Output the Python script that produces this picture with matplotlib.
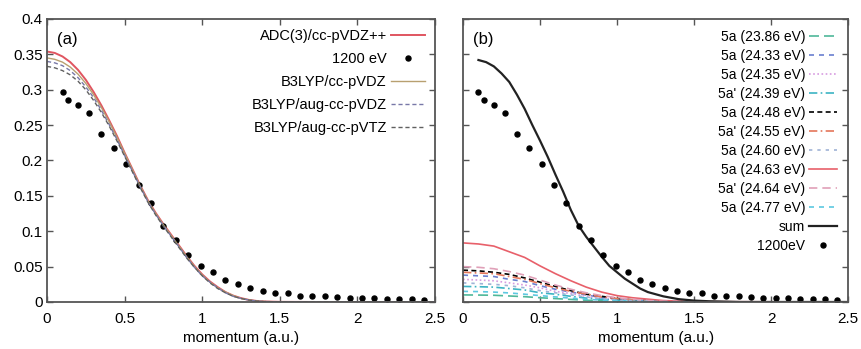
import numpy as np
import matplotlib
matplotlib.use('Agg')
import matplotlib.pyplot as plt
from matplotlib.ticker import FormatStrFormatter, MultipleLocator

plt.rcParams['font.family'] = ['Liberation Sans', 'DejaVu Sans']

# experimental data (shared by both panels)
exp_x = [0.10, 0.135, 0.20, 0.27, 0.35, 0.43, 0.51, 0.59, 0.67, 0.75, 0.83, 0.91, 0.99, 1.07,
         1.15, 1.23, 1.31, 1.39, 1.47, 1.55, 1.63, 1.71, 1.79, 1.87, 1.95, 2.03, 2.11, 2.19,
         2.27, 2.35, 2.43]
exp_y = [0.297, 0.286, 0.278, 0.267, 0.238, 0.217, 0.195, 0.166, 0.140, 0.108, 0.088, 0.067,
         0.051, 0.042, 0.031, 0.026, 0.020, 0.016, 0.013, 0.012, 0.009, 0.009, 0.008, 0.007,
         0.006, 0.005, 0.005, 0.004, 0.004, 0.004, 0.003]

# panel (a) theory curves
pa_x = [0.0, 0.05, 0.10, 0.15, 0.20, 0.25, 0.30, 0.35, 0.40, 0.45, 0.50, 0.55, 0.60, 0.65,
        0.70, 0.75, 0.80, 0.85, 0.90, 0.95, 1.00, 1.05, 1.10, 1.15, 1.20, 1.25, 1.30, 1.35,
        1.40, 1.50, 1.75, 2.00, 2.50]
adc = [0.354, 0.352, 0.347, 0.339, 0.328, 0.314, 0.297, 0.278, 0.257, 0.235, 0.211, 0.188,
       0.165, 0.144, 0.126, 0.110, 0.095, 0.080, 0.065, 0.051, 0.039, 0.029, 0.021, 0.014,
       0.009, 0.0055, 0.003, 0.0015, 0.0007, 0.0002, 0.0, 0.0, 0.0]
b3_vdz = [0.345, 0.343, 0.339, 0.332, 0.322, 0.309, 0.293, 0.275, 0.255, 0.233, 0.210, 0.187,
          0.164, 0.143, 0.125, 0.109, 0.094, 0.079, 0.064, 0.050, 0.038, 0.028, 0.020, 0.014,
          0.009, 0.005, 0.003, 0.0014, 0.0006, 0.0002, 0.0, 0.0, 0.0]
b3_avdz = [0.340, 0.338, 0.334, 0.327, 0.317, 0.304, 0.289, 0.271, 0.251, 0.230, 0.207, 0.185,
           0.163, 0.142, 0.124, 0.108, 0.093, 0.078, 0.063, 0.049, 0.037, 0.028, 0.020, 0.013,
           0.008, 0.005, 0.0028, 0.0013, 0.0006, 0.0002, 0.0, 0.0, 0.0]
b3_avtz = [0.333, 0.331, 0.327, 0.321, 0.312, 0.300, 0.285, 0.268, 0.249, 0.228, 0.206, 0.184,
           0.162, 0.141, 0.123, 0.107, 0.092, 0.077, 0.062, 0.049, 0.037, 0.027, 0.019, 0.013,
           0.008, 0.005, 0.0027, 0.0013, 0.0006, 0.0002, 0.0, 0.0, 0.0]

# panel (b) components
pb_x = [0.0, 0.1, 0.2, 0.3, 0.4, 0.5, 0.6, 0.7, 0.8, 0.9, 1.0, 1.1, 1.2, 1.3, 1.5, 2.5]
c2386 = [0.010, 0.0098, 0.0095, 0.0085, 0.0075, 0.006, 0.0048, 0.0036, 0.0025, 0.0017, 0.0011,
         0.0007, 0.0005, 0.0003, 0.0001, 0.0]
c2433 = [0.038, 0.037, 0.036, 0.032, 0.029, 0.023, 0.018, 0.014, 0.010, 0.006, 0.004, 0.003,
         0.002, 0.001, 0.0002, 0.0]
c2435 = [0.032, 0.031, 0.030, 0.027, 0.024, 0.020, 0.015, 0.012, 0.008, 0.005, 0.0035, 0.002,
         0.0014, 0.0008, 0.0002, 0.0]
c2439 = [0.022, 0.0216, 0.021, 0.019, 0.017, 0.013, 0.011, 0.008, 0.0055, 0.0037, 0.0024,
         0.0015, 0.001, 0.0005, 0.0001, 0.0]
c2448 = [0.045, 0.044, 0.042, 0.039, 0.034, 0.028, 0.022, 0.016, 0.011, 0.008, 0.005, 0.003,
         0.002, 0.001, 0.0003, 0.0]
c2455 = [0.042, 0.041, 0.040, 0.036, 0.032, 0.026, 0.020, 0.015, 0.011, 0.007, 0.005, 0.003,
         0.002, 0.001, 0.0002, 0.0]
c2460 = [0.027, 0.026, 0.025, 0.023, 0.020, 0.016, 0.013, 0.010, 0.007, 0.0046, 0.003, 0.002,
         0.0012, 0.0007, 0.0002, 0.0]
c2463 = [0.0835, 0.082, 0.079, 0.071, 0.063, 0.051, 0.040, 0.030, 0.021, 0.014, 0.009, 0.006,
         0.004, 0.002, 0.0005, 0.0]
c2464 = [0.050, 0.049, 0.047, 0.043, 0.038, 0.031, 0.024, 0.018, 0.013, 0.009, 0.006, 0.004,
         0.002, 0.001, 0.0003, 0.0]
c2477 = [0.015, 0.0147, 0.014, 0.0128, 0.011, 0.009, 0.0072, 0.0054, 0.0038, 0.0026, 0.0017,
         0.001, 0.0007, 0.0004, 0.0001, 0.0]

sum_x = [0.10, 0.15, 0.20, 0.25, 0.30, 0.35, 0.40, 0.45, 0.50, 0.55, 0.60, 0.65, 0.70, 0.75,
         0.80, 0.85, 0.90, 0.95, 1.00, 1.05, 1.10, 1.15, 1.20, 1.25, 1.30, 1.40, 1.50, 1.60,
         1.80, 2.50]
sum_y = [0.342, 0.339, 0.333, 0.323, 0.311, 0.293, 0.273, 0.250, 0.228, 0.205, 0.180, 0.156,
         0.130, 0.108, 0.092, 0.078, 0.064, 0.051, 0.042, 0.033, 0.026, 0.019, 0.014, 0.011,
         0.008, 0.004, 0.002, 0.001, 0.0, 0.0]

fig = plt.figure(figsize=(8.61, 3.49), dpi=100)
ax1 = fig.add_axes([0.0546, 0.1347, 0.4506, 0.8109])
ax2 = fig.add_axes([0.5378, 0.1347, 0.4472, 0.8109])

for ax in (ax1, ax2):
    ax.set_xlim(0, 2.5)
    ax.set_ylim(0, 0.4)
    ax.xaxis.set_major_locator(MultipleLocator(0.5))
    ax.yaxis.set_major_locator(MultipleLocator(0.05))
    ax.xaxis.set_major_formatter(FormatStrFormatter('%g'))
    ax.yaxis.set_major_formatter(FormatStrFormatter('%g'))
    ax.tick_params(direction='in', top=True, right=True, length=4, width=1,
                   color='#555555', labelsize=11)
    ax.tick_params(axis='x', pad=7)
    ax.tick_params(axis='y', pad=3)
    for s in ax.spines.values():
        s.set_color('#555555')
        s.set_linewidth(1.3)
    ax.set_xlabel('momentum (a.u.)', fontsize=11, labelpad=4)

ax2.tick_params(labelleft=False)

# panel (a)
ax1.plot(pa_x, adc, color='#e05560', lw=1.4, label='ADC(3)/cc-pVDZ++')
ax1.plot(exp_x, exp_y, 'o', color='black', ms=3.6, label='1200 eV')
ax1.plot(pa_x, b3_vdz, color='#b8a070', lw=1.0, label='B3LYP/cc-pVDZ')
ax1.plot(pa_x, b3_avdz, color='#7878a8', lw=1.0, ls=(0, (3, 2)), label='B3LYP/aug-cc-pVDZ')
ax1.plot(pa_x, b3_avtz, color='#606060', lw=1.0, ls=(0, (3, 2)), label='B3LYP/aug-cc-pVTZ')
ax1.legend(loc='upper right', frameon=False, markerfirst=False, fontsize=10.5,
           handlelength=2.3, handletextpad=0.3, labelspacing=0.62, borderaxespad=0.3,
           numpoints=1)
ax1.text(0.025, 0.955, '(a)', transform=ax1.transAxes, fontsize=12, va='top')

# panel (b)
comps = [
    ('5a (23.86 eV)', c2386, '#4fb89a', (0, (6, 3))),
    ('5a (24.33 eV)', c2433, '#6a7fd0', (0, (3, 3))),
    ('5a (24.35 eV)', c2435, '#d79be0', (0, (1, 1.5))),
    ("5a' (24.39 eV)", c2439, '#3cb4c4', (0, (5, 2, 1, 2))),
    ('5a (24.48 eV)', c2448, 'black', (0, (3, 2))),
    ("5a' (24.55 eV)", c2455, '#e4765a', (0, (5, 2, 1, 2))),
    ('5a (24.60 eV)', c2460, '#9fb3d6', (0, (2, 3))),
    ('5a (24.63 eV)', c2463, '#e8606a', '-'),
    ("5a' (24.64 eV)", c2464, '#e0a0b8', (0, (5, 3))),
    ('5a (24.77 eV)', c2477, '#5cc8e0', (0, (3, 3))),
]
for lab, ys, col, ls in comps:
    ax2.plot(pb_x, ys, color=col, ls=ls, lw=1.2, label=lab)
ax2.plot(sum_x, sum_y, color='#222222', lw=1.6, label='sum')
ax2.plot(exp_x, exp_y, 'o', color='black', ms=3.6, label='1200eV')
ax2.legend(loc='upper right', frameon=False, markerfirst=False, fontsize=10,
           handlelength=2.0, handletextpad=0.3, labelspacing=0.36, borderaxespad=0.4,
           numpoints=1)
ax2.text(0.025, 0.955, '(b)', transform=ax2.transAxes, fontsize=12, va='top')

fig.savefig('out.png', dpi=100)
